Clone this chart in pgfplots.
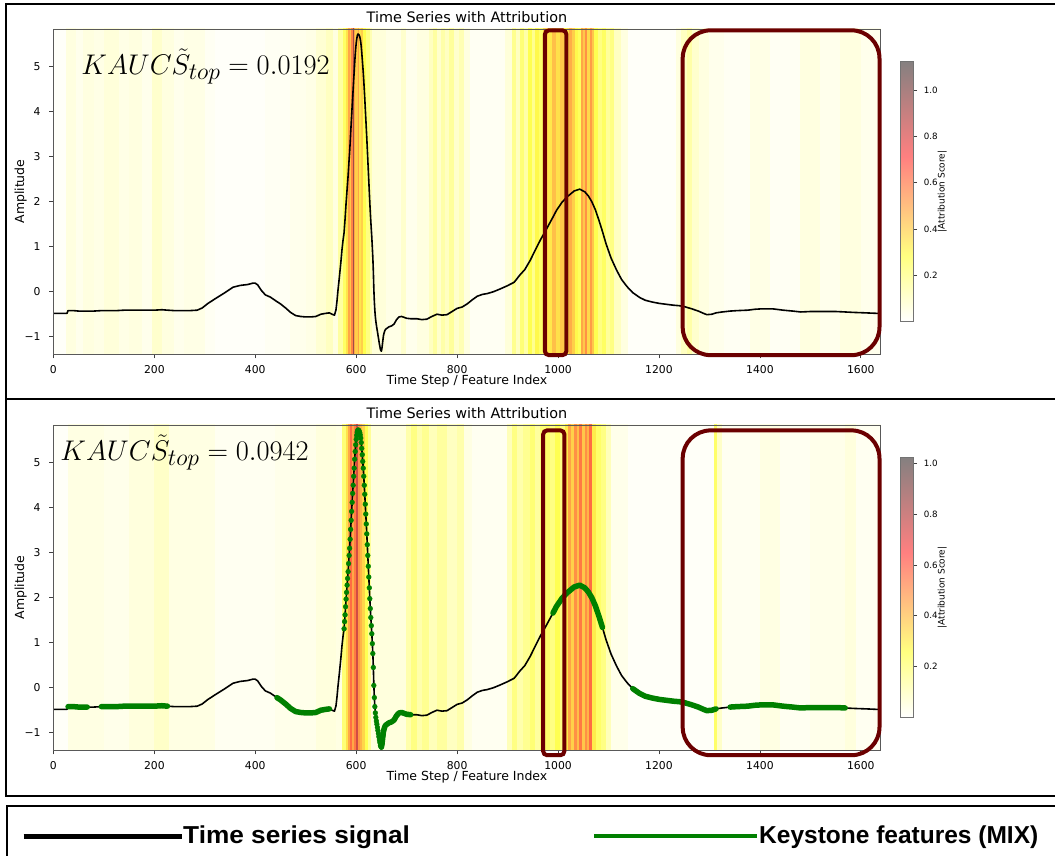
\documentclass[border=0pt]{standalone}
\usepackage[no-math]{fontspec}
\setmainfont{DejaVu Sans}
\newfontfamily\legfont{Liberation Sans}
\usepackage{pgfplots}
\usepackage{pgfplotstable}
\pgfplotsset{compat=1.18}

\definecolor{boxred}{rgb}{0.42,0,0}
\definecolor{mplgreen}{rgb}{0,0.5,0}

% colorbar map (hot_r, alpha 0.5 on white) and stripe map (hot_r, denser)
\pgfplotsset{colormap={hotra}{rgb(0cm)=(1,1,1) rgb(2.54cm)=(1,1,0.5) rgb(6.35cm)=(1,0.5,0.5) rgb(10cm)=(0.52,0.5,0.5)}}
\pgfplotsset{colormap={hotrs}{rgb(0cm)=(1,1,1) rgb(2.54cm)=(1,1,0.3) rgb(6.35cm)=(1,0.3,0.25) rgb(10cm)=(0.35,0.3,0.3)}}

% signal
\pgfplotstableread{
x y
0 -0.48
10 -0.48
20 -0.48
27 -0.48
29 -0.42
40 -0.42
50 -0.43
60 -0.43
67 -0.43
80 -0.43
95 -0.42
110 -0.42
125 -0.42
140 -0.41
160 -0.41
180 -0.41
200 -0.41
215 -0.40
226 -0.41
240 -0.42
255 -0.42
270 -0.42
285 -0.41
295 -0.36
305 -0.27
320 -0.16
340 -0.02
356 0.10
370 0.14
385 0.16
395 0.19
400 0.19
405 0.15
412 0.03
420 -0.07
430 -0.12
443 -0.22
450 -0.27
460 -0.36
470 -0.46
480 -0.53
490 -0.55
500 -0.56
510 -0.56
520 -0.55
530 -0.50
540 -0.48
547 -0.47
552 -0.50
557 -0.52
560 -0.40
562 -0.20
564 0.04
566 0.25
568 0.47
570 0.70
572 0.95
574 1.15
575 1.23
576 1.31
577 1.47
578 1.62
579 1.80
580 1.97
581 2.12
582 2.28
583 2.43
584 2.58
585 2.76
586 2.94
587 3.10
588 3.30
589 3.52
590 3.72
591 3.92
592 4.12
593 4.32
594 4.50
595 4.70
596 4.88
597 5.08
598 5.25
599 5.40
600 5.52
601 5.61
602 5.68
603 5.72
604 5.73
605 5.72
606 5.70
607 5.67
608 5.62
609 5.55
610 5.45
611 5.32
612 5.18
613 5.03
614 4.88
615 4.70
616 4.50
617 4.30
618 4.08
619 3.86
620 3.64
621 3.42
622 3.18
623 2.94
624 2.70
625 2.46
626 2.22
627 1.98
628 1.76
629 1.56
630 1.38
631 1.20
632 0.98
633 0.76
634 0.45
635 0.05
636 -0.22
637 -0.42
638 -0.56
639 -0.66
640 -0.74
641 -0.81
642 -0.88
643 -0.95
644 -1.02
645 -1.09
646 -1.16
647 -1.22
648 -1.28
649 -1.31
650 -1.32
651 -1.26
652 -1.17
653 -1.07
654 -0.98
655 -0.93
656 -0.89
657 -0.86
658 -0.84
659 -0.83
660 -0.82
665 -0.78
670 -0.76
675 -0.72
680 -0.62
685 -0.56
690 -0.55
695 -0.57
700 -0.59
708 -0.60
720 -0.60
730 -0.62
740 -0.61
750 -0.55
760 -0.50
770 -0.52
780 -0.51
790 -0.44
800 -0.37
810 -0.34
820 -0.27
830 -0.18
840 -0.10
850 -0.06
860 -0.04
872 0.00
885 0.06
899 0.13
913 0.21
925 0.38
934 0.49
945 0.70
955 0.93
965 1.15
976 1.37
990 1.66
997 1.81
1008 1.99
1018 2.11
1032 2.24
1043 2.28
1053 2.22
1060 2.13
1067 2.00
1074 1.82
1081 1.59
1088 1.34
1095 1.07
1105 0.75
1116 0.48
1126 0.27
1137 0.11
1148 -0.02
1162 -0.13
1173 -0.19
1187 -0.23
1201 -0.26
1215 -0.28
1229 -0.30
1240 -0.31
1250 -0.33
1265 -0.38
1278 -0.43
1288 -0.48
1295 -0.51
1305 -0.50
1313 -0.47
1325 -0.45
1341 -0.43
1355 -0.42
1376 -0.41
1390 -0.39
1404 -0.38
1425 -0.38
1446 -0.41
1465 -0.43
1481 -0.45
1500 -0.44
1516 -0.44
1535 -0.44
1551 -0.44
1569 -0.45
1586 -0.46
1610 -0.47
1630 -0.48
1638 -0.48
}\signal

% attribution stripes, top panel (left edge, value)
\pgfplotstableread{
x c
0 0.01
25 0.05
45 0.03
60 0.05
80 0.04
100 0.06
130 0.04
150 0.05
175 0.03
195 0.08
215 0.05
240 0.03
260 0.04
300 0.02
320 0.01
420 0.02
470 0.03
500 0.04
520 0.07
540 0.10
555 0.05
565 0.15
575 0.25
580 0.35
584 0.50
588 0.42
591 0.58
594 0.95
596 0.50
599 0.40
603 0.50
606 0.35
610 0.40
614 0.28
620 0.20
627 0.12
632 0.06
660 0.04
690 0.08
700 0.03
720 0.05
745 0.10
752 0.15
760 0.08
768 0.14
776 0.10
785 0.16
795 0.08
805 0.12
815 0.05
826 0.02
895 0.06
910 0.18
918 0.10
925 0.22
932 0.14
940 0.28
948 0.18
955 0.30
962 0.24
970 0.40
980 0.34
988 0.44
996 0.36
1004 0.42
1012 0.30
1018 0.36
1022 0.48
1028 0.40
1034 0.30
1040 0.26
1046 0.50
1050 0.42
1054 0.55
1058 0.38
1063 0.52
1067 0.42
1072 0.28
1080 0.20
1088 0.25
1096 0.16
1104 0.20
1112 0.10
1125 0.05
1140 0.01
1235 0.05
1245 0.10
1255 0.14
1265 0.08
1280 0.05
1300 0.03
1330 0.02
1380 0.04
1420 0.02
1480 0.05
1520 0.03
1560 0.05
1600 0.03
1639 0.03
}\stripesA

% attribution stripes, bottom panel
\pgfplotstableread{
x c
0 0.01
30 0.04
100 0.03
150 0.05
200 0.08
230 0.04
320 0.02
440 0.03
520 0.05
560 0.04
572 0.20
580 0.32
585 0.45
589 0.58
593 0.45
597 0.55
600 0.75
603 0.48
608 0.42
612 0.35
617 0.25
624 0.15
630 0.05
700 0.12
710 0.18
720 0.12
730 0.16
745 0.10
760 0.14
780 0.09
800 0.12
815 0.04
830 0.02
900 0.10
910 0.18
920 0.12
930 0.16
945 0.20
955 0.14
965 0.20
975 0.22
985 0.18
995 0.25
1005 0.18
1015 0.30
1020 0.46
1026 0.36
1032 0.50
1037 0.40
1042 0.55
1047 0.38
1053 0.50
1058 0.42
1062 0.58
1067 0.30
1075 0.22
1085 0.18
1095 0.10
1105 0.03
1140 0.01
1310 0.22
1316 0.08
1325 0.02
1400 0.04
1440 0.02
1500 0.03
1570 0.05
1590 0.02
1639 0.02
}\stripesB

\pgfplotstablegetrowsof{\stripesA}\edef\NA{\pgfplotsretval}
\pgfplotstablegetrowsof{\stripesB}\edef\NB{\pgfplotsretval}
\pgfplotstablevertcat{\stripesAA}{\stripesA}
\pgfplotstablevertcat{\stripesAA}{\stripesA}
\pgfplotstablevertcat{\stripesBB}{\stripesB}
\pgfplotstablevertcat{\stripesBB}{\stripesB}

\pgfplotsset{
  colorbar shift/.style={xshift=20.2pt},
  panel/.style={
    scale only axis, width=827.1pt, height=325pt,
    xmin=0, xmax=1639, ymin=-1.384, ymax=5.84,
    axis on top,
    /pgf/number format/assume math mode=true,
    xtick={0,200,400,600,800,1000,1200,1400,1600},
    xticklabels={0,200,400,600,800,1000,1200,1400,1600},
    ytick={-1,0,1,2,3,4,5},
    yticklabels={−1,0,1,2,3,4,5},
    xtick pos=left, ytick pos=left,
    tick align=outside, major tick length=4.3pt,
    tick style={black!75, line width=0.8pt},
    axis line style={black!65, line width=0.8pt},
    xticklabel style={font=\fontsize{10.8}{12}\selectfont, anchor=north, inner sep=0pt, yshift=-6.7pt},
    yticklabel style={font=\fontsize{10.8}{12}\selectfont, anchor=east, inner sep=0pt, xshift=-8.4pt},
    title={Time Series with Attribution},
    title style={font=\fontsize{14.4}{16}\selectfont, at={(axis description cs:0.5,1)}, anchor=base, inner sep=0pt},
    xlabel={Time Step / Feature Index},
    xlabel style={font=\fontsize{12.5}{14}\selectfont, at={(axis description cs:0.5,-0.0954)}, anchor=base, inner sep=0pt},
    ylabel={Amplitude},
    ylabel style={font=\fontsize{12.5}{14}\selectfont, at={(axis description cs:-0.0319,0.5)}, anchor=south, inner sep=0pt},
    colormap name=hotrs,
    colorbar,
    colorbar style={
      colormap name=hotra,
      at={(parent axis.east)}, anchor=west,
      scale only axis, width=12.8pt, height=260pt,
      ytick={0.2,0.4,0.6,0.8,1.0},
      yticklabels={0.2,0.4,0.6,0.8,1.0},
      yticklabel pos=right, ytick pos=right,
      tick align=outside, major tick length=3.5pt,
      tick style={black!75, line width=0.7pt},
      axis line style={black!55, line width=0.8pt},
      yticklabel style={font=\fontsize{8.7}{10}\selectfont, anchor=west, inner sep=0pt, xshift=6.7pt},
      ylabel={|Attribution Score|},
      ylabel style={font=\fontsize{9}{10}\selectfont, at={(axis description cs:3.25,0.5)}, anchor=center, inner sep=0pt},
    },
  },
}

\begin{document}
\begin{tikzpicture}[x=1pt,y=1pt]
\useasboundingbox (0pt,0pt) rectangle (1055pt,856pt);

% ---------- top panel ----------
\begin{axis}[panel, at={(53.4pt,502pt)}, anchor=south west,
  point meta min=0, point meta max=1.125]
  \addplot[surf, shader=flat corner, mesh/rows=2, point meta=explicit]
    table[x=x, y expr={\coordindex<\NA ? -3 : 8}, meta=c] {\stripesAA};
  \addplot[black, line width=1.6pt, line join=round] table[x=x,y=y] {\signal};
  \node[anchor=base west, inner sep=0pt, scale=1.142, font=\fontsize{24.88}{28}\selectfont]
    at (axis cs:54.9,4.82) {$KAUC\tilde{S}_{top} = 0.0192$};
  \coordinate (ta1) at (axis cs:974,5.81);
  \coordinate (tb1) at (axis cs:1016.6,-1.41);
  \coordinate (ta2) at (axis cs:1247,5.81);
  \coordinate (tb2) at (axis cs:1637,-1.41);
\end{axis}

% ---------- bottom panel ----------
\begin{axis}[panel, at={(53.4pt,106pt)}, anchor=south west,
  point meta min=0, point meta max=1.022]
  \addplot[surf, shader=flat corner, mesh/rows=2, point meta=explicit]
    table[x=x, y expr={\coordindex<\NB ? -3 : 8}, meta=c] {\stripesBB};
  \addplot[black, line width=1.6pt, line join=round] table[x=x,y=y] {\signal};
  \addplot[mplgreen, line width=5.5pt, line cap=round, line join=round, restrict x to domain=28:67] table[x=x,y=y] {\signal};
  \addplot[mplgreen, line width=5.5pt, line cap=round, line join=round, restrict x to domain=95:226] table[x=x,y=y] {\signal};
  \addplot[mplgreen, line width=5.5pt, line cap=round, line join=round, restrict x to domain=443:547] table[x=x,y=y] {\signal};
  \addplot[mplgreen, line width=5.5pt, line cap=round, line join=round, restrict x to domain=650:708] table[x=x,y=y] {\signal};
  \addplot[mplgreen, line width=5.5pt, line cap=round, line join=round, restrict x to domain=990:1088] table[x=x,y=y] {\signal};
  \addplot[mplgreen, line width=5.5pt, line cap=round, line join=round, restrict x to domain=1148:1313] table[x=x,y=y] {\signal};
  \addplot[mplgreen, line width=5.5pt, line cap=round, line join=round, restrict x to domain=1341:1569] table[x=x,y=y] {\signal};
  \addplot[only marks, mark=*, mark size=2.4pt, mplgreen, mark options={draw=mplgreen, fill=mplgreen}, restrict x to domain=576:655] table[x=x,y=y] {\signal};
  \node[anchor=base west, inner sep=0pt, scale=1.142, font=\fontsize{24.88}{28}\selectfont]
    at (axis cs:13.5,5.05) {$KAUC\tilde{S}_{top} = 0.0942$};
  \coordinate (ba1) at (axis cs:970.5,5.72);
  \coordinate (bb1) at (axis cs:1012.6,-1.50);
  \coordinate (ba2) at (axis cs:1247,5.72);
  \coordinate (bb2) at (axis cs:1637,-1.50);
\end{axis}

% highlight boxes
\draw[boxred, line width=4pt, rounded corners=4pt] (ta1) rectangle (tb1);
\draw[boxred, line width=4pt, rounded corners=28pt] (ta2) rectangle (tb2);
\draw[boxred, line width=4pt, rounded corners=4pt] (ba1) rectangle (bb1);
\draw[boxred, line width=4pt, rounded corners=28pt] (ba2) rectangle (bb2);

% panel frames
\draw[black, line width=2pt] (6.4pt,852pt) rectangle (1065pt,457pt);
\draw[black, line width=2pt] (6.4pt,457pt) rectangle (1065pt,60pt);
\draw[black, line width=1.6pt] (6.7pt,50pt) rectangle (1065pt,-10pt);

% legend
\draw[black, line width=4.5pt] (23.5pt,19.3pt) -- (181.7pt,19.3pt);
\node[anchor=base west, inner sep=0pt, xscale=1.07, font=\legfont\bfseries\fontsize{24.5}{28}\selectfont] at (183pt,12.7pt) {Time series signal};
\draw[mplgreen, line width=3.5pt] (594pt,20pt) -- (757pt,20pt);
\node[anchor=base west, inner sep=0pt, font=\legfont\bfseries\fontsize{24.5}{28}\selectfont] at (759pt,12.7pt) {Keystone features (MIX)};
\end{tikzpicture}
\end{document}
